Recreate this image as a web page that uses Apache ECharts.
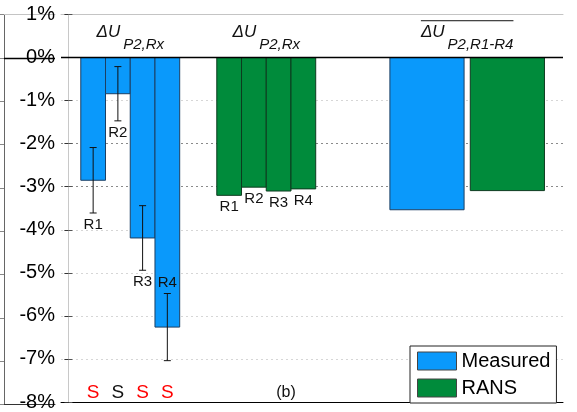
<!DOCTYPE html>
<html>
<head>
<meta charset="utf-8">
<script src="https://cdn.jsdelivr.net/npm/echarts@6/dist/echarts.min.js"></script>
<style>
  html, body { margin: 0; padding: 0; background: #fff; }
  #chart { width: 577px; height: 412px; }
</style>
</head>
<body>
<div id="chart"></div>
<script>
// ---- data ----
const rowNames = ['R1', 'R2', 'R3', 'R4'];
const measured = [-2.85, -0.84, -4.19, -6.26];      // % change, measured
const measuredErr = [0.76, 0.63, 0.75, 0.78];       // half-length of error bars
const rans = [-3.20, -3.01, -3.10, -3.05];          // % change, RANS
const separated = [true, false, true, true];        // flag drawn red when true
const seriesNames = ['Measured', 'RANS'];
const titleMain = ['ΔU', 'ΔU', 'ΔU'];
const titleSub = ['P2,Rx', 'P2,Rx', 'P2,R1-R4'];
const titleOverline = [false, false, true];
const flagText = 'S';
const panelTag = '(b)';
const yMin = -8, yMax = 1, yStep = 1;

const mean = a => a.reduce((s, v) => s + v, 0) / a.length;

// ---- layout along the x value axis (one unit = one bar width) ----
const X_MIN = -0.3, X_MAX = 20;
const SLOT_M = [1, 2, 3, 4];
const SLOT_R = [6.5, 7.5, 8.5, 9.5];
const SLOT_MEAN = [14.5, 17.75];
const MEAN_W = 3;
const GROUP_CENTERS = [2.5, 8, 16.125];
const FLAG_Y = -7.78;
const TAG_X = 8.8;

const FONT = '"Liberation Sans", Arial, sans-serif';
const BLUE = '#0a99fb', BLUE_EDGE = '#1c3f63';
const GREEN = '#008b3b', GREEN_EDGE = '#0d3b1f';

const measureCtx = document.createElement('canvas').getContext('2d');
function textWidth(s, font) { measureCtx.font = font; return measureCtx.measureText(s).width; }

const measuredItems = rowNames.map((r, i) => ({
  x: SLOT_M[i], v: measured[i], e: measuredErr[i], w: 1, label: r,
  side: i === 3 ? 'above' : 'below'
})).concat([{ x: SLOT_MEAN[0], v: mean(measured), e: 0, w: MEAN_W, label: '' }]);

const ransItems = rowNames.map((r, i) => ({
  x: SLOT_R[i], v: rans[i], e: 0, w: 1, label: r, side: 'below'
})).concat([{ x: SLOT_MEAN[1], v: mean(rans), e: 0, w: MEAN_W, label: '' }]);

function barRenderer(items, fill, stroke) {
  return function (params, api) {
    const it = items[params.dataIndex];
    const a = api.coord([it.x - it.w / 2, 0]);
    const b = api.coord([it.x + it.w / 2, it.v]);
    const children = [{
      type: 'rect',
      shape: { x: Math.min(a[0], b[0]), y: Math.min(a[1], b[1]),
               width: Math.abs(b[0] - a[0]), height: Math.abs(b[1] - a[1]) },
      style: { fill: fill, stroke: stroke, lineWidth: 1 }
    }];
    let lowY = b[1], highY = b[1];
    const cx = api.coord([it.x, it.v])[0];
    if (it.e > 0) {
      const top = api.coord([it.x, it.v + it.e])[1];
      const bot = api.coord([it.x, it.v - it.e])[1];
      const ls = { stroke: '#111', lineWidth: 1 };
      children.push({ type: 'line', shape: { x1: cx, y1: top, x2: cx, y2: bot }, style: ls });
      children.push({ type: 'line', shape: { x1: cx - 3.5, y1: top, x2: cx + 3.5, y2: top }, style: ls });
      children.push({ type: 'line', shape: { x1: cx - 3.5, y1: bot, x2: cx + 3.5, y2: bot }, style: ls });
      lowY = bot; highY = top;
    }
    if (it.label) {
      const ly = it.side === 'above' ? highY - 11 : lowY + 12;
      children.push({
        type: 'text', x: cx, y: ly,
        style: { text: it.label, fill: '#111', font: '15px ' + FONT,
                 align: 'center', verticalAlign: 'middle',
                 textAlign: 'center', textVerticalAlign: 'middle' }
      });
    }
    return { type: 'group', children: children };
  };
}

function titleRenderer(params, api) {
  const i = params.dataIndex;
  const c = api.coord([GROUP_CENTERS[i], 0.6]);
  const f1 = 'italic 17px ' + FONT, f2 = 'italic 15px ' + FONT;
  const w1 = textWidth(titleMain[i], f1), w2 = textWidth(titleSub[i], f2), gap = 3;
  const x0 = c[0] - (w1 + gap + w2) / 2;
  const children = [
    { type: 'text', x: x0, y: c[1] + 1,
      style: { text: titleMain[i], fill: '#111', font: f1, align: 'left', verticalAlign: 'middle',
               textAlign: 'left', textVerticalAlign: 'middle' } },
    { type: 'text', x: x0 + w1 + gap, y: c[1] + 13,
      style: { text: titleSub[i], fill: '#111', font: f2, align: 'left', verticalAlign: 'middle',
               textAlign: 'left', textVerticalAlign: 'middle' } }
  ];
  if (titleOverline[i]) {
    children.push({ type: 'line',
      shape: { x1: x0, y1: c[1] - 11, x2: x0 + w1 + gap + w2, y2: c[1] - 11 },
      style: { stroke: '#111', lineWidth: 1 } });
  }
  return { type: 'group', children: children };
}

function flagRenderer(params, api) {
  const i = params.dataIndex;
  const p = api.coord([SLOT_M[i], FLAG_Y]);
  return { type: 'text', x: p[0], y: p[1],
    style: { text: flagText, fill: separated[i] ? '#ff0000' : '#111', font: '19px ' + FONT,
             align: 'center', verticalAlign: 'middle', textAlign: 'center', textVerticalAlign: 'middle' } };
}

function tagRenderer(params, api) {
  const p = api.coord([TAG_X, FLAG_Y]);
  return { type: 'text', x: p[0], y: p[1],
    style: { text: panelTag, fill: '#111', font: '16px ' + FONT,
             align: 'center', verticalAlign: 'middle', textAlign: 'center', textVerticalAlign: 'middle' } };
}

// grid lines from -8 up to 1; -3 and -2 drawn darker
const gridColors = [];
for (let v = yMin; v <= yMax; v += yStep) {
  if (v === -3 || v === -2) gridColors.push('#8a8a8a');
  else if (v === yMin || v >= 0) gridColors.push('rgba(0,0,0,0)');
  else gridColors.push('#d6d6d6');
}

const zeroLine = {
  silent: true, symbol: 'none', label: { show: false },
  lineStyle: { color: '#000', width: 1.3, type: 'solid' },
  data: [{ yAxis: 0 }]
};

const chart = echarts.init(document.getElementById('chart'), null, { renderer: 'canvas' });
chart.setOption({
  animation: false,
  backgroundColor: '#fff',
  textStyle: { fontFamily: FONT },
  grid: [
    { left: 61, right: 14, top: 14.5, height: 390 },
    { left: -200, width: 204, top: 14.5, height: 390 }
  ],
  xAxis: [
    { type: 'value', gridIndex: 0, min: X_MIN, max: X_MAX, position: 'bottom',
      axisLine: { onZero: false, lineStyle: { color: '#000', width: 1 } },
      axisTick: { show: false }, axisLabel: { show: false }, splitLine: { show: false } },
    { type: 'value', gridIndex: 0, min: X_MIN, max: X_MAX, position: 'top',
      axisLine: { onZero: false, lineStyle: { color: '#c4c4c4', width: 1 } },
      axisTick: { show: false }, axisLabel: { show: false }, splitLine: { show: false } },
    { type: 'value', gridIndex: 1, min: 0, max: 1, position: 'bottom',
      axisLine: { onZero: false, lineStyle: { color: '#333', width: 1 } },
      axisTick: { show: false }, axisLabel: { show: false }, splitLine: { show: false } },
    { type: 'value', gridIndex: 1, min: 0, max: 1, position: 'top',
      axisLine: { onZero: false, lineStyle: { color: '#c4c4c4', width: 1 } },
      axisTick: { show: false }, axisLabel: { show: false }, splitLine: { show: false } }
  ],
  yAxis: [
    { type: 'value', gridIndex: 0, min: yMin, max: yMax, interval: yStep, position: 'left',
      axisLine: { show: true, lineStyle: { color: '#c8c8c8', width: 1 } },
      axisTick: { show: true, inside: true, length: 4, lineStyle: { color: '#555' } },
      axisLabel: { formatter: '{value}%', fontSize: 20, color: '#000', margin: 6, fontFamily: FONT },
      splitLine: { show: true, lineStyle: { color: gridColors, width: 1, type: [2, 3] } } },
    { type: 'value', gridIndex: 0, min: yMin, max: yMax, interval: yStep, position: 'right',
      axisLine: { show: false },
      axisTick: { show: true, inside: true, length: 4, lineStyle: { color: '#333' } },
      axisLabel: { show: false }, splitLine: { show: false } },
    { type: 'value', gridIndex: 1, min: yMin, max: yMax, interval: yStep, position: 'right',
      axisLine: { show: true, lineStyle: { color: '#666', width: 1 } },
      axisTick: { show: true, inside: true, length: 4, lineStyle: { color: '#888' } },
      axisLabel: { show: false }, splitLine: { show: false } }
  ],
  legend: {
    data: seriesNames,
    orient: 'vertical', left: 410, top: 346,
    padding: [5, 6, 5, 7], itemGap: 7, itemWidth: 39, itemHeight: 18,
    icon: 'rect', borderColor: '#222', borderWidth: 1, backgroundColor: '#fff',
    itemStyle: { borderColor: '#444', borderWidth: 1 },
    textStyle: { fontSize: 20, color: '#000', fontFamily: FONT, padding: [0, 0, 0, 0] }
  },
  series: [
    { type: 'custom', name: seriesNames[0], xAxisIndex: 0, yAxisIndex: 0, z: 2,
      itemStyle: { color: BLUE, borderColor: BLUE_EDGE },
      data: measuredItems.map(it => [it.x, it.v]), encode: { x: 0, y: 1 },
      renderItem: barRenderer(measuredItems, BLUE, BLUE_EDGE) },
    { type: 'custom', name: seriesNames[1], xAxisIndex: 0, yAxisIndex: 0, z: 2,
      itemStyle: { color: GREEN, borderColor: GREEN_EDGE },
      data: ransItems.map(it => [it.x, it.v]), encode: { x: 0, y: 1 },
      renderItem: barRenderer(ransItems, GREEN, GREEN_EDGE) },
    { type: 'custom', name: 'titles', xAxisIndex: 0, yAxisIndex: 0, z: 3, silent: true,
      data: GROUP_CENTERS.map(c => [c, 0.6]), encode: { x: 0, y: 1 },
      renderItem: titleRenderer },
    { type: 'custom', name: 'flags', xAxisIndex: 0, yAxisIndex: 0, z: 3, silent: true,
      data: SLOT_M.map(x => [x, FLAG_Y]), encode: { x: 0, y: 1 },
      renderItem: flagRenderer },
    { type: 'custom', name: 'tag', xAxisIndex: 0, yAxisIndex: 0, z: 3, silent: true,
      data: [[TAG_X, FLAG_Y]], encode: { x: 0, y: 1 },
      renderItem: tagRenderer },
    { type: 'line', name: 'zero', xAxisIndex: 0, yAxisIndex: 0, z: 5, data: [],
      markLine: zeroLine },
    { type: 'line', name: 'zeroLeft', xAxisIndex: 2, yAxisIndex: 2, z: 5, data: [],
      markLine: zeroLine }
  ]
});
</script>
</body>
</html>
